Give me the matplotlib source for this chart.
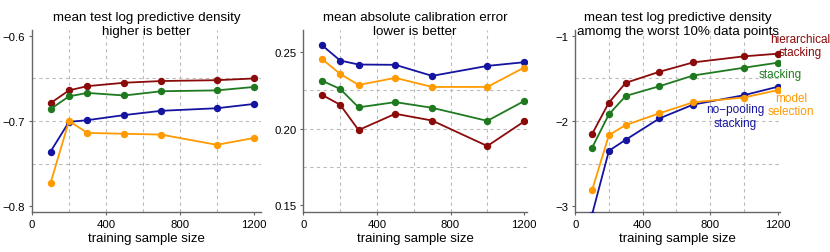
import matplotlib
matplotlib.use("Agg")
import matplotlib.pyplot as plt

plt.rcParams['font.family'] = ['Liberation Sans', 'DejaVu Sans']

n_train = [100, 200, 300, 500, 700, 1000, 1200]

# panel 1: mean test log predictive density
lpd_hier = [-0.679, -0.664, -0.659, -0.655, -0.653, -0.652, -0.650]
lpd_stack = [-0.686, -0.671, -0.667, -0.670, -0.665, -0.664, -0.660]
lpd_nopool = [-0.736, -0.701, -0.699, -0.693, -0.688, -0.685, -0.680]
lpd_select = [-0.773, -0.700, -0.714, -0.715, -0.716, -0.728, -0.720]

# panel 2: mean absolute calibration error
cal_hier = [0.222, 0.2155, 0.199, 0.2096, 0.2052, 0.1886, 0.2046]
cal_stack = [0.2312, 0.2258, 0.2138, 0.2172, 0.2135, 0.205, 0.2179]
cal_nopool = [0.2544, 0.2443, 0.2417, 0.2415, 0.2343, 0.2408, 0.2432]
cal_select = [0.2454, 0.2356, 0.2284, 0.233, 0.2271, 0.2271, 0.2397]

# panel 3: worst 10% lpd
w_hier = [-2.154, -1.783, -1.551, -1.421, -1.311, -1.240, -1.209]
w_stack = [-2.315, -1.921, -1.705, -1.591, -1.465, -1.374, -1.315]
w_nopool = [-3.10, -2.350, -2.220, -1.969, -1.807, -1.697, -1.598]
w_select = [-2.815, -2.165, -2.047, -1.909, -1.780, -1.724, -1.638]

c_hier = '#8b0a0a'
c_stack = '#1f7a1f'
c_nopool = '#1414a0'
c_select = '#ff9a00'
spine_col = '#666666'

fig = plt.figure(figsize=(8.3, 2.53), dpi=100)

panels = [
    dict(pos=[0.0386, 0.158, 0.276, 0.7195], xlim=(0, 1240), ylim=(-0.807, -0.593),
         yticks=[-0.8, -0.7, -0.6], ylabels=['\u22120.8', '\u22120.7', '\u22120.6'],
         hgrid=[-0.75, -0.70, -0.65],
         series=[(lpd_hier, c_hier), (lpd_stack, c_stack), (lpd_nopool, c_nopool), (lpd_select, c_select)],
         title='mean test log predictive density\nhigher is better'),
    dict(pos=[0.3655, 0.158, 0.2695, 0.7195], xlim=(0, 1216), ylim=(0.1456, 0.2642),
         yticks=[0.15, 0.20, 0.25], ylabels=['0.15', '0.20', '0.25'],
         hgrid=[0.175, 0.20, 0.225],
         series=[(cal_hier, c_hier), (cal_stack, c_stack), (cal_nopool, c_nopool), (cal_select, c_select)],
         title='mean absolute calibration error\nlower is better'),
    dict(pos=[0.693, 0.158, 0.247, 0.7195], xlim=(0, 1216), ylim=(-3.07, -0.93),
         yticks=[-3, -2, -1], ylabels=['\u22123', '\u22122', '\u22121'],
         hgrid=[-2.5, -2.0, -1.5],
         series=[(w_hier, c_hier), (w_stack, c_stack), (w_nopool, c_nopool), (w_select, c_select)],
         title='mean test log predictive density\namomg the worst 10% data points'),
]

axes = []
for p in panels:
    ax = fig.add_axes(p['pos'])
    for x in [200, 400, 600, 800, 1000]:
        ax.axvline(x, color='#bbbbbb', lw=0.8, ls=(0, (3, 3)), zorder=0)
    for y in p['hgrid']:
        ax.axhline(y, color='#bbbbbb', lw=0.8, ls=(0, (3, 3)), zorder=0)
    for vals, col in p['series']:
        ax.plot(n_train, vals, color=col, lw=1.3, marker='o', ms=4.3, zorder=3)
    ax.set_xlim(*p['xlim'])
    ax.set_ylim(*p['ylim'])
    ax.set_xticks([0, 400, 800, 1200])
    ax.set_yticks(p['yticks'])
    ax.set_yticklabels(p['ylabels'])
    ax.tick_params(labelsize=8.2, length=2.5, width=0.8, color=spine_col, pad=2.5)
    for s in ['top', 'right']:
        ax.spines[s].set_visible(False)
    for s in ['left', 'bottom']:
        ax.spines[s].set_color(spine_col)
        ax.spines[s].set_linewidth(1.0)
    ax.set_xlabel('training sample size', fontsize=9.5, labelpad=2)
    ax.text(0.5, 0.978, p['title'], transform=ax.transAxes, ha='center', va='baseline',
            fontsize=9.6, linespacing=1.2)
    axes.append(ax)

ax3 = axes[2]
ax3.text(1335, -1.109, 'hierarchical\nstacking', color=c_hier, ha='center', va='center',
         fontsize=8.5, linespacing=1.15)
ax3.text(1213, -1.445, 'stacking', color=c_stack, ha='center', va='center', fontsize=8.5)
ax3.text(1280, -1.803, 'model\nselection', color=c_select, ha='center', va='center',
         fontsize=8.5, linespacing=1.15)
ax3.text(949, -1.943, 'no\u2212pooling\nstacking', color=c_nopool, ha='center', va='center',
         fontsize=8.5, linespacing=1.15)

fig.savefig('out.png', dpi=100)
